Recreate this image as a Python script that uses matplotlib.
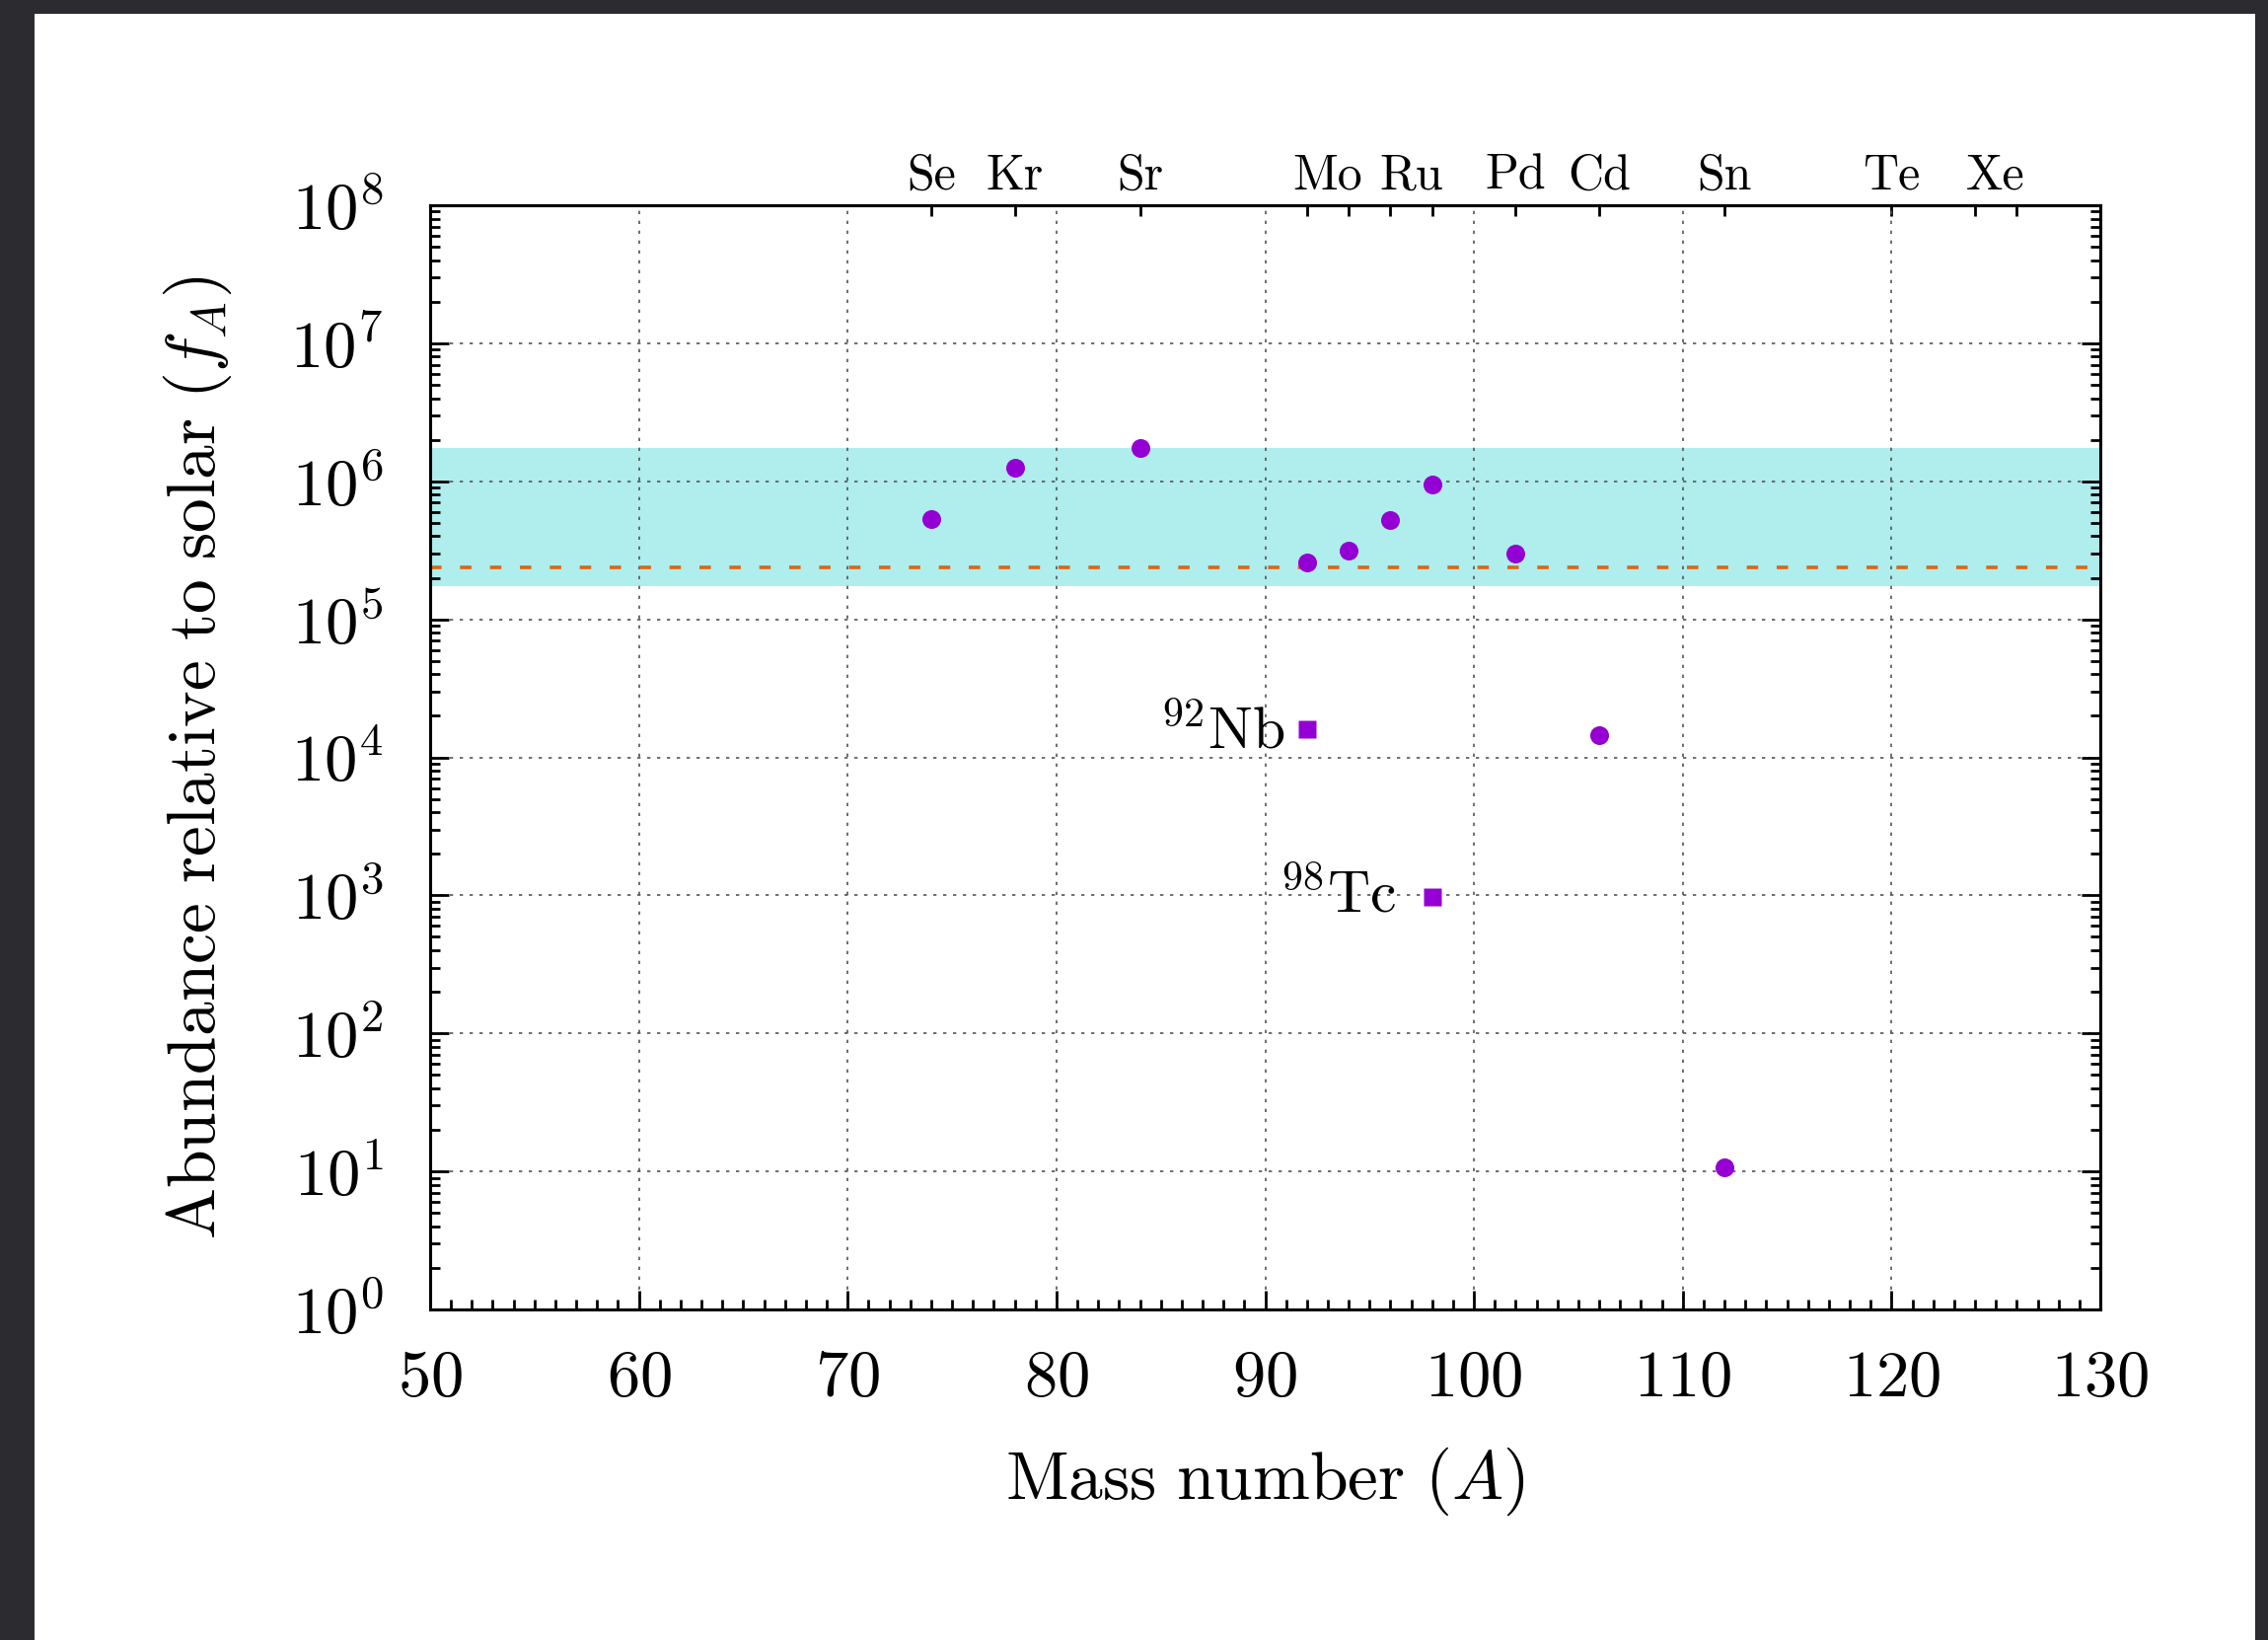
import matplotlib
matplotlib.use("Agg")
import matplotlib.pyplot as plt
import numpy as np
from matplotlib.ticker import LogLocator, NullFormatter, NullLocator, MultipleLocator, FixedLocator
from matplotlib.patches import Rectangle

plt.rcParams['font.family'] = 'serif'
plt.rcParams['font.serif'] = ['cmr10']
plt.rcParams['mathtext.fontset'] = 'cm'
plt.rcParams['axes.formatter.use_mathtext'] = True

# p-nuclei abundances relative to solar
mass_numbers = [74, 78, 84, 92, 94, 96, 98, 102, 106, 112]
abundances = [5.3e5, 1.25e6, 1.75e6, 2.6e5, 3.15e5, 5.27e5, 9.5e5, 3.0e5, 1.44e4, 10.7]

# radioactive isotopes
radio_labels = [r'$^{92}\mathrm{Nb}$', r'$^{98}\mathrm{Tc}$']
radio_mass = [92, 98]
radio_abund = [1.61e4, 977]

# band (max/10 .. max) and dashed reference level
band_low, band_high = 1.75e5, 1.75e6
ref_level = 2.39e5

# top axis: isotope ticks and element names
top_ticks = [74, 78, 84, 92, 94, 96, 98, 102, 106, 112, 120, 124, 126]
element_names = ['Se', 'Kr', 'Sr', 'Mo', 'Ru', 'Pd', 'Cd', 'Sn', 'Te', 'Xe']
element_pos = [74, 78, 84, 93, 97, 102, 106, 112, 120, 125]

fig = plt.figure(figsize=(22.99, 16.62), dpi=100)
fig.patch.set_facecolor('#2c2c30')
fig.add_artist(Rectangle((35 / 2299, 0), (2286 - 35) / 2299, (1662 - 14) / 1662,
                         transform=fig.transFigure, facecolor='white',
                         edgecolor='none', zorder=-10))

ax = fig.add_axes([436 / 2299, 1 - 1327 / 1662, (2129 - 436) / 2299, (1327 - 208) / 1662])
ax.patch.set_alpha(0)

ax.axhspan(band_low, band_high, color='#b0eded', lw=0, zorder=1)
ax.axhline(ref_level, color='#dd6611', lw=2.6, dashes=(3.2, 5.2), zorder=2)
ax.plot(mass_numbers, abundances, 'o', color='#9400d3', ms=13.7, mec='none', zorder=3)
ax.plot(radio_mass, radio_abund, 's', color='#9400d3', ms=13.5, mec='none', zorder=3)

offsets = [(-16.5, -15), (-26.5, -11.5)]
for lab, x, y, off in zip(radio_labels, radio_mass, radio_abund, offsets):
    ax.annotate(lab, (x, y), xytext=off, textcoords='offset points',
                ha='right', va='baseline', fontsize=43)

ax.set_yscale('log')
ax.set_xlim(50, 130)
ax.set_ylim(1, 1e8)

ax.xaxis.set_major_locator(MultipleLocator(10))
ax.xaxis.set_minor_locator(MultipleLocator(1))
ax.yaxis.set_major_locator(LogLocator(base=10, numticks=20))
ax.yaxis.set_minor_locator(LogLocator(base=10, subs=np.arange(2, 10), numticks=100))
ax.yaxis.set_minor_formatter(NullFormatter())

ax.tick_params(which='both', direction='in', top=False, right=True, width=2)
ax.tick_params(which='major', length=14, labelsize=48)
ax.tick_params(axis='x', which='major', pad=30)
ax.tick_params(axis='y', which='major', pad=34)
ax.tick_params(which='minor', length=7)

ax.grid(True, which='major', color='#555555', lw=1.2, linestyle=(0, (2, 4)))
for sp in ax.spines.values():
    sp.set_linewidth(2.2)

ax.set_xlabel(r'$\mathrm{Mass\ number\ }(A)$', fontsize=50, labelpad=26)
ax.set_ylabel(r'$\mathrm{Abundance\ relative\ to\ solar\ }(f_A)$', fontsize=50, labelpad=41)

top = ax.secondary_xaxis('top')
top.xaxis.set_major_locator(FixedLocator(top_ticks))
top.xaxis.set_major_formatter(NullFormatter())
top.xaxis.set_minor_locator(NullLocator())
top.tick_params(which='major', direction='in', length=8, width=2)
top.spines['top'].set_linewidth(2.2)

for name, pos in zip(element_names, element_pos):
    ax.text(pos, 1.0143, name, transform=ax.get_xaxis_transform(),
            ha='center', va='baseline', fontsize=36)

fig.savefig('out.png', dpi=100, facecolor=fig.get_facecolor())
